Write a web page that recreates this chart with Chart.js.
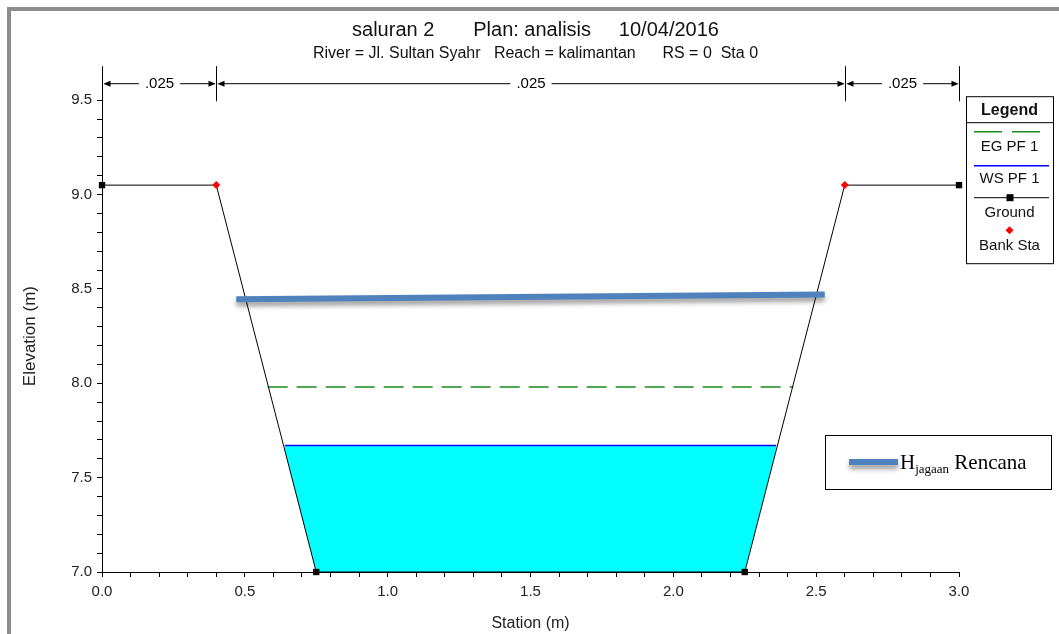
<!DOCTYPE html>
<html>
<head>
<meta charset="utf-8">
<script src="https://cdn.jsdelivr.net/npm/chart.js@4.4.1/dist/chart.umd.min.js"></script>
<style>
  body { margin: 0; background: #fff; }
  .frame { position: absolute; left: 7px; top: 7px; width: 1100px; height: 700px;
           border-left: 4px solid #8c8c8c; border-top: 4px solid #8c8c8c; }
  .wrap { position: absolute; left: 0; top: 0; width: 1059px; height: 634px; }
</style>
</head>
<body>
<div class="frame"></div>
<div class="wrap"><canvas id="myChart"></canvas></div>
<script>
// cross section
const stations = [0, 0.4, 0.75, 2.25, 2.6, 3.0];
const ground   = [9.05, 9.05, 7.0, 7.0, 9.05, 9.05];
const bankX = [0.4, 2.6];
const bankY = [9.05, 9.05];
// water surface / energy grade (PF 1)
const wsX = [0.64, 2.36];
const wsY = [7.67, 7.67];
const egX = [0.58, 2.42];
const egY = [7.98, 7.98];
// H jagaan rencana (hand drawn line)
const hjX = [0.47, 2.53];
const hjY = [8.445, 8.47];
// manning n
const nBreaks = [0, 0.4, 2.6, 3.0];
const nValues = ['.025', '.025', '.025'];

const FONT = "'Liberation Sans', Arial, sans-serif";

function pts(xs, ys){
    return xs.map((x, i) => ({x: x, y: ys[i]}));
}

const shadowPlugin = {
    id: 'hjShadow',
    beforeDatasetDraw(chart, args){
        if(args.index !== 0) return;
        const ctx = chart.ctx;
        ctx.save();
        ctx.shadowColor = 'rgba(0,0,0,0.4)';
        ctx.shadowBlur = 5;
        ctx.shadowOffsetY = 4;
    },
    afterDatasetDraw(chart, args){
        if(args.index !== 0) return;
        chart.ctx.restore();
    }
};

function arrowHead(ctx, x, y, dir){
    ctx.beginPath();
    ctx.moveTo(x, y);
    ctx.lineTo(x - dir * 7, y - 3);
    ctx.lineTo(x - dir * 7, y + 3);
    ctx.closePath();
    ctx.fill();
}

const nPlugin = {
    id: 'nValues',
    afterDraw(chart){
        const ctx = chart.ctx;
        const xs = chart.scales.x;
        const top = chart.chartArea.top;
        const y = top - 17;
        ctx.save();
        ctx.strokeStyle = '#000';
        ctx.fillStyle = '#000';
        ctx.lineWidth = 1;
        nBreaks.forEach(b => {
            const px = Math.round(xs.getPixelForValue(b)) + 0.5;
            ctx.beginPath();
            ctx.moveTo(px, top - 34);
            ctx.lineTo(px, top + 1);
            ctx.stroke();
        });
        ctx.font = '15px ' + FONT;
        ctx.textAlign = 'center';
        ctx.textBaseline = 'middle';
        for(let i = 0; i < nValues.length; i++){
            const a = Math.round(xs.getPixelForValue(nBreaks[i])) + 0.5;
            const c = Math.round(xs.getPixelForValue(nBreaks[i + 1])) + 0.5;
            const mid = (a + c) / 2;
            const w = ctx.measureText(nValues[i]).width;
            ctx.beginPath();
            ctx.moveTo(a + 2, y + 0.5);
            ctx.lineTo(mid - w / 2 - 6, y + 0.5);
            ctx.moveTo(mid + w / 2 + 6, y + 0.5);
            ctx.lineTo(c - 2, y + 0.5);
            ctx.stroke();
            arrowHead(ctx, a + 1, y + 0.5, -1);
            arrowHead(ctx, c - 1, y + 0.5, 1);
            ctx.fillText(nValues[i], mid, y + 1);
        }
        ctx.restore();
    }
};

const legendPlugin = {
    id: 'rasLegend',
    afterDraw(chart){
        const ctx = chart.ctx;
        const ca = chart.chartArea;
        const L = ca.right + 7, T = ca.top - 4, W = 87, H = 167;
        const cx = L + W / 2;
        ctx.save();
        ctx.fillStyle = '#fff';
        ctx.fillRect(L, T, W, H);
        ctx.strokeStyle = '#000';
        ctx.lineWidth = 1;
        ctx.strokeRect(L + 0.5, T + 0.5, W, H);
        ctx.beginPath();
        ctx.moveTo(L, T + 26.5);
        ctx.lineTo(L + W, T + 26.5);
        ctx.stroke();
        ctx.textAlign = 'center';
        ctx.textBaseline = 'middle';
        ctx.fillStyle = '#111';
        ctx.font = 'bold 16px ' + FONT;
        ctx.fillText('Legend', cx, T + 14);
        ctx.font = '15px ' + FONT;
        // EG
        ctx.strokeStyle = '#1a8a1a';
        ctx.lineWidth = 1.5;
        ctx.setLineDash([28, 10]);
        ctx.beginPath();
        ctx.moveTo(L + 8, T + 35.5);
        ctx.lineTo(L + W - 8, T + 35.5);
        ctx.stroke();
        ctx.setLineDash([]);
        ctx.fillText('EG PF 1', cx, T + 51);
        // WS
        ctx.strokeStyle = '#0000ff';
        ctx.beginPath();
        ctx.moveTo(L + 8, T + 69.5);
        ctx.lineTo(L + W - 4, T + 69.5);
        ctx.stroke();
        ctx.fillText('WS PF 1', cx, T + 83);
        // Ground
        ctx.strokeStyle = '#000';
        ctx.lineWidth = 1;
        ctx.beginPath();
        ctx.moveTo(L + 8, T + 101.5);
        ctx.lineTo(L + W - 4, T + 101.5);
        ctx.stroke();
        ctx.fillStyle = '#000';
        ctx.fillRect(cx - 3, T + 98, 7, 7);
        ctx.fillStyle = '#111';
        ctx.fillText('Ground', cx, T + 117);
        // Bank
        ctx.fillStyle = '#ff0000';
        ctx.beginPath();
        ctx.moveTo(cx, T + 130);
        ctx.lineTo(cx + 4, T + 134);
        ctx.lineTo(cx, T + 138);
        ctx.lineTo(cx - 4, T + 134);
        ctx.closePath();
        ctx.fill();
        ctx.fillStyle = '#111';
        ctx.fillText('Bank Sta', cx, T + 150);

        // H jagaan box
        const bx = 825, by = 435, bw = 226, bh = 54;
        ctx.strokeStyle = '#000';
        ctx.strokeRect(bx + 0.5, by + 0.5, bw, bh);
        ctx.save();
        ctx.shadowColor = 'rgba(0,0,0,0.4)';
        ctx.shadowBlur = 5;
        ctx.shadowOffsetY = 4;
        ctx.fillStyle = '#4f81bd';
        ctx.fillRect(bx + 24, by + 24, 49, 6);
        ctx.restore();
        ctx.fillStyle = '#000';
        ctx.textAlign = 'left';
        ctx.textBaseline = 'alphabetic';
        ctx.font = "21px 'Liberation Serif', 'Times New Roman', serif";
        ctx.fillText('H', bx + 75, by + 34);
        const hw = ctx.measureText('H').width;
        ctx.font = "13px 'Liberation Serif', 'Times New Roman', serif";
        ctx.fillText('jagaan', bx + 75 + hw, by + 38);
        const jw = ctx.measureText('jagaan').width;
        ctx.font = "21px 'Liberation Serif', 'Times New Roman', serif";
        ctx.fillText(' Rencana', bx + 75 + hw + jw, by + 34);
        ctx.restore();
    }
};

function tickLabel(v){
    return Math.abs(v * 2 - Math.round(v * 2)) < 1e-6 ? v.toFixed(1) : '';
}

window.onload = () => {
    const ctx = document.getElementById('myChart').getContext('2d');
    const myChart = new Chart(ctx, {
        type: 'line',
        data: {
            datasets: [{
                label: 'Hjagaan Rencana',
                data: pts(hjX, hjY),
                borderColor: '#4f81bd',
                borderWidth: 6,
                pointRadius: 0,
                fill: false
            }, {
                label: 'Bank Sta',
                data: pts(bankX, bankY),
                showLine: false,
                clip: false,
                pointStyle: 'rectRot',
                pointRadius: 4,
                backgroundColor: '#ff0000',
                borderColor: '#ff0000',
                borderWidth: 0
            }, {
                label: 'Ground',
                data: pts(stations, ground),
                clip: false,
                borderColor: '#000',
                borderWidth: 1,
                pointStyle: 'rect',
                pointRadius: c => bankX.includes(stations[c.dataIndex]) ? 0 : 4.5,
                backgroundColor: '#000',
                pointBorderWidth: 0,
                fill: false
            }, {
                label: 'WS PF 1',
                data: pts(wsX, wsY),
                borderColor: '#0000ff',
                borderWidth: 1.5,
                backgroundColor: '#00ffff',
                pointRadius: 0,
                fill: 2
            }, {
                label: 'EG PF 1',
                data: pts(egX, egY),
                borderColor: '#1a8a1a',
                borderWidth: 1.5,
                borderDash: [20, 9],
                pointRadius: 0,
                fill: false
            }]
        },
        options: {
            responsive: true,
            maintainAspectRatio: false,
            animation: false,
            layout: { padding: { left: 12, right: 0, top: 10, bottom: 0 } },
            plugins: {
                legend: { display: false },
                tooltip: { enabled: false },
                title: {
                    display: true,
                    text: 'saluran 2       Plan: analisis     10/04/2016',
                    color: '#111',
                    font: { family: FONT, size: 20, weight: 'normal' },
                    padding: { top: 8, bottom: 0 }
                },
                subtitle: {
                    display: true,
                    text: 'River = Jl. Sultan Syahr   Reach = kalimantan      RS = 0  Sta 0',
                    color: '#111',
                    font: { family: FONT, size: 16 },
                    padding: { top: 2, bottom: 37 }
                }
            },
            scales: {
                x: {
                    type: 'linear',
                    min: 0,
                    max: 3,
                    afterFit: s => { s.height = 62; },
                    ticks: {
                        stepSize: 0.1,
                        autoSkip: false,
                        maxRotation: 0,
                        padding: 6,
                        color: '#222',
                        font: { family: FONT, size: 15 },
                        callback: tickLabel
                    },
                    grid: { drawOnChartArea: false, tickLength: 5, color: '#000' },
                    border: { display: true, color: '#000', width: 1 },
                    title: {
                        display: true,
                        text: 'Station (m)',
                        color: '#222',
                        font: { family: FONT, size: 16 },
                        padding: { top: 0, bottom: 1 }
                    }
                },
                y: {
                    min: 7,
                    max: 9.5,
                    afterFit: s => { s.width = 90; },
                    ticks: {
                        stepSize: 0.1,
                        autoSkip: false,
                        padding: 5,
                        color: '#222',
                        font: { family: FONT, size: 15 },
                        callback: tickLabel
                    },
                    grid: { drawOnChartArea: false, tickLength: 5, color: '#000' },
                    border: { display: true, color: '#000', width: 1 },
                    title: {
                        display: true,
                        text: 'Elevation (m)',
                        color: '#222',
                        font: { family: FONT, size: 17 },
                        padding: { top: 8, bottom: 0 }
                    }
                },
                // empty box that keeps room for the legend on the right
                side: {
                    position: 'right',
                    min: 0,
                    max: 1,
                    afterFit: s => { s.width = 100; },
                    ticks: { display: false },
                    grid: { display: false },
                    border: { display: false }
                }
            }
        },
        plugins: [shadowPlugin, nPlugin, legendPlugin]
    });
}
</script>
</body>
</html>
